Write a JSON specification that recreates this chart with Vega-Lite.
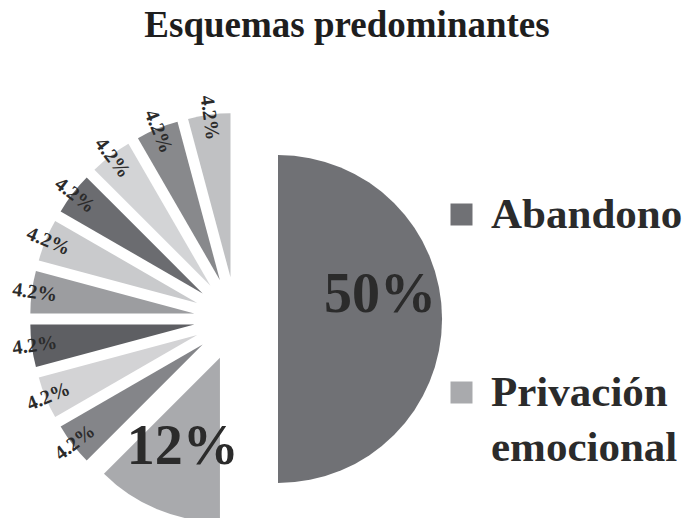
{
  "$schema": "https://vega.github.io/schema/vega-lite/v6.json",
  "autosize": {"type": "none"},
  "width": 472,
  "height": 398,
  "padding": {"left": 0, "top": 120, "right": 216, "bottom": 0},
  "background": "white",
  "title": {
    "text": "Esquemas predominantes",
    "font": "Liberation Serif",
    "fontSize": 37,
    "fontWeight": "bold",
    "color": "#1e1e1e",
    "anchor": "middle",
    "frame": "group",
    "dx": 111,
    "offset": 49
  },
  "data": {
    "values": [
      {"esquema": "Abandono", "casos": 12, "etiqueta": "50%", "orden": 1},
      {"esquema": "Privación emocional", "casos": 3, "etiqueta": "12%", "orden": 2},
      {"esquema": "Esquema 3", "casos": 1, "etiqueta": "4.2%", "orden": 3},
      {"esquema": "Esquema 4", "casos": 1, "etiqueta": "4.2%", "orden": 4},
      {"esquema": "Esquema 5", "casos": 1, "etiqueta": "4.2%", "orden": 5},
      {"esquema": "Esquema 6", "casos": 1, "etiqueta": "4.2%", "orden": 6},
      {"esquema": "Esquema 7", "casos": 1, "etiqueta": "4.2%", "orden": 7},
      {"esquema": "Esquema 8", "casos": 1, "etiqueta": "4.2%", "orden": 8},
      {"esquema": "Esquema 9", "casos": 1, "etiqueta": "4.2%", "orden": 9},
      {"esquema": "Esquema 10", "casos": 1, "etiqueta": "4.2%", "orden": 10},
      {"esquema": "Esquema 11", "casos": 1, "etiqueta": "4.2%", "orden": 11}
    ]
  },
  "transform": [
    {"stack": "casos", "groupby": [], "offset": "normalize", "sort": [{"field": "orden", "order": "ascending"}], "as": ["ini", "fin"]},
    {"calculate": "(datum.ini + datum.fin) / 2", "as": "mid"}
  ],
  "encoding": {
    "x": {"value": {"expr": "width/2 + 42*sin(2*PI*datum.mid)"}},
    "y": {"value": {"expr": "height/2 - 42*cos(2*PI*datum.mid)"}}
  },
  "layer": [
    {
      "mark": {"type": "arc", "radius": 164, "stroke": null},
      "encoding": {
        "theta": {"field": "ini", "type": "quantitative", "scale": {"domain": [0, 1], "range": [0, 6.283185307179586]}},
        "theta2": {"field": "fin"},
        "color": {
          "field": "esquema",
          "type": "nominal",
          "scale": {
            "domain": ["Abandono", "Privación emocional", "Esquema 3", "Esquema 4", "Esquema 5", "Esquema 6", "Esquema 7", "Esquema 8", "Esquema 9", "Esquema 10", "Esquema 11"],
            "range": ["#707175", "#a9aaad", "#848589", "#d3d3d5", "#5e5f63", "#9c9da0", "#c9cacc", "#6b6c70", "#d3d4d6", "#88898c", "#c0c1c3"]
          },
          "legend": {
            "values": ["Abandono", "Privación emocional"],
            "title": null,
            "orient": "none",
            "legendX": 440,
            "legendY": 73,
            "symbolType": "square",
            "symbolSize": 484,
            "symbolStrokeWidth": 0,
            "labelFont": "Liberation Serif",
            "labelFontSize": 43,
            "labelFontWeight": "bold",
            "labelColor": "#2b2b2b",
            "labelLimit": 400,
            "labelOffset": 8,
            "labelBaseline": "middle",
            "rowPadding": 134,
            "labelExpr": "datum.label == 'Privación emocional' ? ['Privación', 'emocional'] : datum.label"
          }
        }
      }
    },
    {
      "transform": [{"filter": "datum.casos == 1"}],
      "mark": {"type": "text", "radius": 161, "font": "Liberation Serif", "fontSize": 20, "fontWeight": "bold", "color": "#2b2b2b", "align": "center", "baseline": "middle"},
      "encoding": {
        "theta": {"field": "mid", "type": "quantitative", "scale": {"domain": [0, 1], "range": [0, 6.283185307179586]}},
        "text": {"field": "etiqueta"},
        "angle": {"value": {"expr": "360*datum.mid - 270"}}
      }
    },
    {
      "transform": [{"filter": "datum.esquema == 'Abandono'"}],
      "mark": {"type": "text", "radius": 102, "dy": -24, "font": "Liberation Serif", "fontSize": 56, "fontWeight": "bold", "color": "#2b2b2b", "align": "center", "baseline": "middle"},
      "encoding": {
        "theta": {"field": "mid", "type": "quantitative", "scale": {"domain": [0, 1], "range": [0, 6.283185307179586]}},
        "text": {"field": "etiqueta"}
      }
    },
    {
      "transform": [{"filter": "datum.esquema == 'Privación emocional'"}],
      "mark": {"type": "text", "radius": 97, "font": "Liberation Serif", "fontSize": 56, "fontWeight": "bold", "color": "#2b2b2b", "align": "center", "baseline": "middle"},
      "encoding": {
        "theta": {"field": "mid", "type": "quantitative", "scale": {"domain": [0, 1], "range": [0, 6.283185307179586]}},
        "text": {"field": "etiqueta"}
      }
    }
  ],
  "config": {
    "view": {"stroke": null},
    "style": {"guide-label": {"lineHeight": 55}}
  }
}
